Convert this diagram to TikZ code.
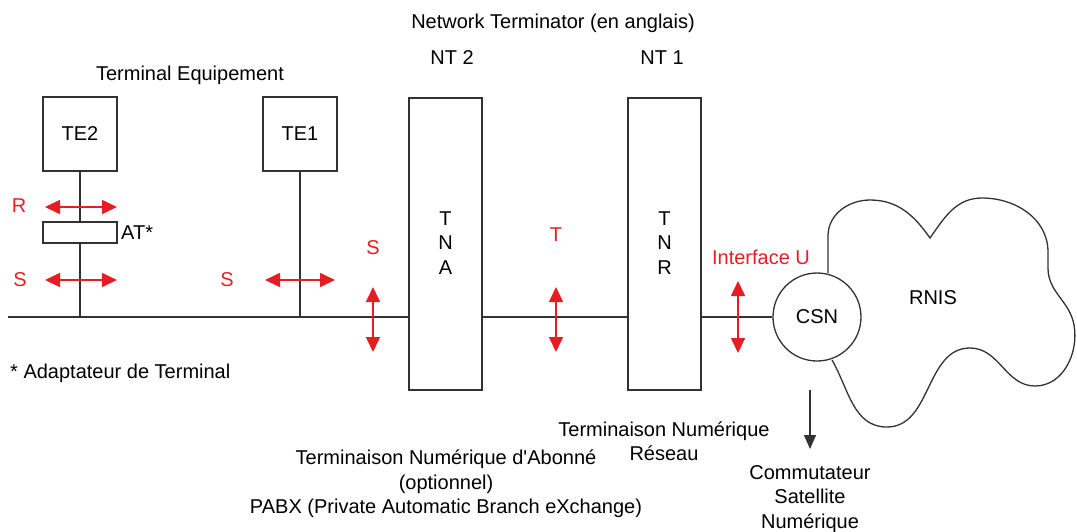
\documentclass[tikz,border=0pt]{standalone}
\usepackage{fontspec}
\setmainfont{Liberation Sans}[Ligatures=TeXOff]
\usetikzlibrary{arrows.meta}
\definecolor{ired}{RGB}{230,30,35}
\definecolor{ln}{RGB}{50,50,50}
\tikzset{
  every node/.style={font=\fontsize{20}{24.5}\selectfont, inner sep=0pt},
  boxnode/.style={draw=ln, line width=1.3pt, fill=white, minimum width=74pt},
  wire/.style={draw=ln, line width=1.3pt},
  redarr/.style={draw=ired, line width=1.6pt, {Triangle[width=14pt,length=15pt]}-{Triangle[width=14pt,length=15pt]}},
  redlbl/.style={text=ired},
  blkarr/.style={draw=ln, line width=1.3pt, -{Triangle[width=12pt,length=14pt]}},
  cloudline/.style={draw=ln, line width=1.3pt}
}
\begin{document}
\begin{tikzpicture}[x=1pt,y=1pt]
\useasboundingbox (0,0) rectangle (1077,-531);

% headings
\node (netterm) at (553,-23) {Network Terminator (en anglais)};
\node (nt2) at (452,-58) {NT 2};
\node (nt1) at (662,-58) {NT 1};
\node (termeq) at (190,-75) {Terminal Equipement};

% boxes
\node[boxnode, minimum height=74pt] (te2) at (80,-134) {TE2};
\node[boxnode, minimum height=74pt] (te1) at (300,-134) {TE1};
\node[boxnode, minimum height=21pt] (at) at (80,-232.5) {};
\node[anchor=west] (atl) at (121,-233) {AT*};
\node[boxnode, minimum width=73pt, minimum height=292pt] (tna) at (445.5,-244) {};
\node[align=center] (tnal) at (445.5,-243) {T\\N\\A};
\node[boxnode, minimum width=73pt, minimum height=292pt] (tnr) at (664.5,-244) {};
\node[align=center] (tnrl) at (664.5,-243) {T\\N\\R};

% RNIS cloud
\draw[cloudline] (828,-273) -- (828,-236)
  to[out=90,in=180] (870,-200)
  to[out=0,in=125] (930,-238)
  to[out=55,in=180] (982,-198)
  to[out=0,in=90] (1048,-252)
  -- (1048,-268)
  to[out=-90,in=100] (1074,-325)
  to[out=-80,in=0] (1035,-386)
  to[out=180,in=0] (970,-348)
  to[out=180,in=0] (887,-427)
  to[out=180,in=-60] (832,-360);
\node (rnis) at (933,-298) {RNIS};

\node[circle, draw=ln, line width=1.3pt, fill=white, minimum size=88pt] (csn) at (817,-317) {};
\node (csnl) at (817,-317) {CSN};

% main bus
\coordinate (lstart) at (8,-317);
\coordinate (j2) at (80,-317);
\coordinate (j1) at (300,-317);
\draw[wire] (lstart) -- (lstart -| tna.west);
\draw[wire] (lstart -| tna.east) -- (lstart -| tnr.west);
\draw[wire] (lstart -| tnr.east) -- (csn.west);
\draw[wire] (te2.south) -- (at.north);
\draw[wire] (at.south) -- (j2);
\draw[wire] (te1.south) -- (j1);

% red interface arrows
\coordinate (ra1) at (45,-207);  \coordinate (ra2) at (117,-207);
\coordinate (sa1) at (45,-280);  \coordinate (sa2) at (117,-280);
\coordinate (sb1) at (265,-280); \coordinate (sb2) at (335,-280);
\coordinate (sc1) at (373,-287); \coordinate (sc2) at (373,-352);
\coordinate (ta1) at (556,-287); \coordinate (ta2) at (556,-352);
\coordinate (ua1) at (738,-281); \coordinate (ua2) at (738,-353);
\draw[redarr] (ra1) -- (ra2);
\draw[redarr] (sa1) -- (sa2);
\draw[redarr] (sb1) -- (sb2);
\draw[redarr] (sc1) -- (sc2);
\draw[redarr] (ta1) -- (ta2);
\draw[redarr] (ua1) -- (ua2);
\node[redlbl] (rl) at (19,-206) {R};
\node[redlbl] (sl1) at (20,-280) {S};
\node[redlbl] (sl2) at (227,-280) {S};
\node[redlbl] (sl3) at (373,-248) {S};
\node[redlbl] (tl) at (556,-235) {T};
\node[redlbl] (ul) at (761,-257) {Interface U};

% notes
\node[anchor=west] (note) at (10,-373) {* Adaptateur de Terminal};
\node[align=center] (tnrtxt) at (664,-441) {Terminaison Numérique\\Réseau};
\node[align=center] (tnatxt) at (446,-484) {Terminaison Numérique d'Abonné\\(optionnel)\\PABX (Private Automatic Branch eXchange)};

\coordinate (da1) at (810,-390);
\coordinate (da2) at (810,-449);
\draw[blkarr] (da1) -- (da2);
\node[align=center] (csntxt) at (810,-499) {Commutateur\\Satellite\\Numérique};
\end{tikzpicture}
\end{document}
